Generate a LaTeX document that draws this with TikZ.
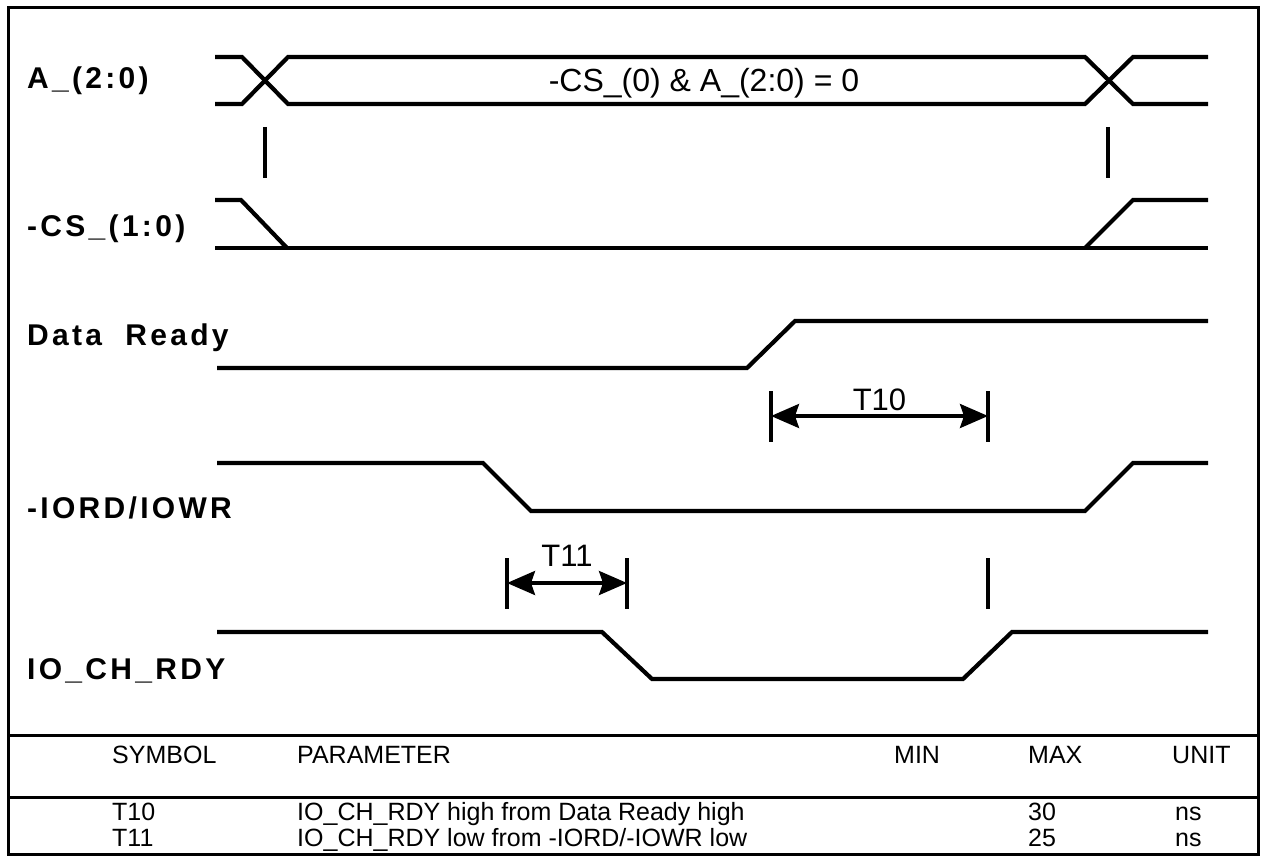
\documentclass[tikz,border=0pt]{standalone}
\usepackage{fontspec}
\setmainfont{Liberation Sans}
\newfontfamily\spacedsans[LetterSpace=11]{Liberation Sans}
\usetikzlibrary{
    arrows.meta,
    positioning
}

\begin{document}
\begin{tikzpicture}[x=1pt,y=-1pt,
    wave/.style={line width=4.2pt,line join=miter},
    marker/.style={line width=3.8pt},
    rule/.style={line width=3pt},
    span/.style={line width=3.4pt,{Stealth[length=28pt,width=24pt,inset=4pt]}-{Stealth[length=28pt,width=24pt,inset=4pt]}},
    signame/.style={anchor=base west,inner sep=0pt,font=\spacedsans\bfseries\fontsize{30}{32}\selectfont},
    cell/.style={anchor=base west,inner sep=0pt,font=\fontsize{25}{28}\selectfont},
    tlabel/.style={font=\fontsize{31}{33}\selectfont}]

    \useasboundingbox (0,0) rectangle (1261,856);
    \draw[rule] (8,8) rectangle (1258,854);

    % signal names
    \node[signame] (addr)  at (27,89)  {A\_(2:0)};
    \node[signame] (cs)    at (27,236) {-CS\_(1:0)};
    \node[signame] (drdy)  at (27,345) {Data~~Ready};
    \node[signame] (iord)  at (27,518) {-IORD/IOWR};
    \node[signame] (chrdy) at (27,679) {IO\_CH\_RDY};

    % A_(2:0)
    \draw[wave] (215,57) -- (242,57) -- (288,104) -- (1085,104) -- (1133,57) -- (1208,57);
    \draw[wave] (215,104) -- (242,104) -- (288,57) -- (1085,57) -- (1133,104) -- (1208,104);
    \node[tlabel,anchor=base,font=\fontsize{32}{34}\selectfont] (addrval) at (704,92) {-CS\_(0) \& A\_(2:0) = 0};

    \draw[marker] (265,127) -- (265,178);
    \draw[marker] (1108,127) -- (1108,178);

    % -CS_(1:0)
    \draw[wave] (215,200) -- (241,200) -- (287,248);
    \draw[wave] (215,248) -- (1208,248);
    \draw[wave] (1085,248) -- (1133,200) -- (1208,200);

    % Data Ready, -IORD/IOWR, IO_CH_RDY
    \draw[wave] (217,368) -- (747,368) -- (795,321) -- (1208,321);
    \draw[wave] (217,463) -- (483,463) -- (531,511) -- (1085,511) -- (1133,463) -- (1208,463);
    \draw[wave] (217,632) -- (602,632) -- (652,679) -- (963,679) -- (1012,632) -- (1208,632);

    % timing spans
    \coordinate (t10l) at (771,416);
    \coordinate (t10r) at (988,416);
    \coordinate (t11l) at (507,583);
    \coordinate (t11r) at (627,583);

    \draw[marker] ([yshift=25pt]t10l) -- ([yshift=-26pt]t10l);
    \draw[marker] ([yshift=25pt]t10r) -- ([yshift=-26pt]t10r);
    \draw[marker] ([yshift=25pt]t11l) -- ([yshift=-26pt]t11l);
    \draw[marker] ([yshift=25pt]t11r) -- ([yshift=-26pt]t11r);
    \draw[marker] (988,558) -- (988,609);

    \draw[span] (t10l) -- node[tlabel,above] (t10) {T10} (t10r);
    \draw[span] (t11l) -- node[tlabel,above=11pt] (t11) {T11} (t11r);

    % table
    \draw[rule] (8,735) -- (1258,735);
    \draw[rule] (8,797) -- (1258,797);

    \node[cell] (hsym)  at (112,763)  {SYMBOL};
    \node[cell] (hpar)  at (297,763)  {PARAMETER};
    \node[cell] (hmin)  at (894,763)  {MIN};
    \node[cell] (hmax)  at (1028,763) {MAX};
    \node[cell] (hunit) at (1172,763) {UNIT};

    \node[cell] (asym)  at (112,820)  {T10};
    \node[cell] (apar)  at (297,820)  {IO\_CH\_RDY high from Data Ready high};
    \node[cell] (amax)  at (1028,820) {30};
    \node[cell] (aunit) at (1175,820) {ns};

    \node[cell] (bsym)  at (112,846)  {T11};
    \node[cell] (bpar)  at (297,846)  {IO\_CH\_RDY low from -IORD/-IOWR low};
    \node[cell] (bmax)  at (1028,846) {25};
    \node[cell] (bunit) at (1175,846) {ns};
\end{tikzpicture}
\end{document}
